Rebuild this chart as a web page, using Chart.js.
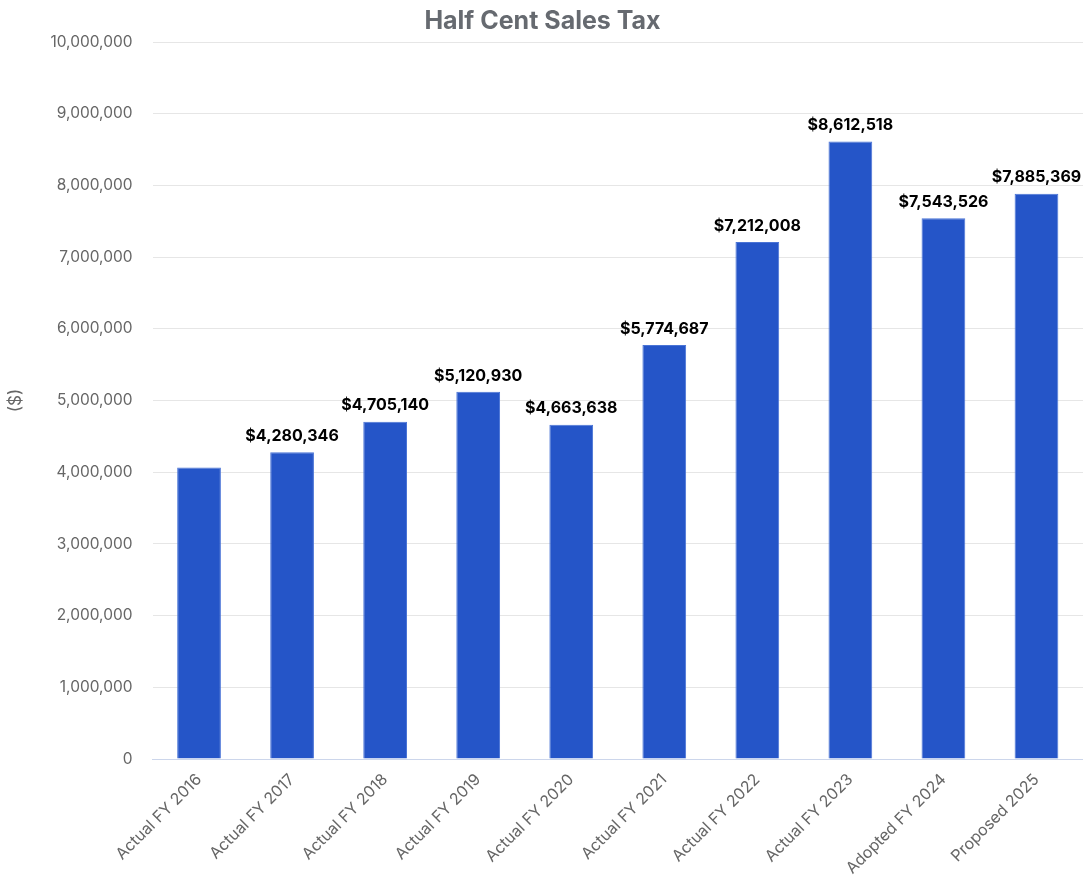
<!DOCTYPE html>
<html>
<head>
<meta charset="utf-8">
<script src="https://cdn.jsdelivr.net/npm/chart.js@4"></script>
<style>
  html, body { margin: 0; padding: 0; background: #fff; }
  #wrap { width: 1083px; height: 882px; }
</style>
</head>
<body>
<div id="wrap"><canvas id="taxChart"></canvas></div>
<script>
// Categories and values
const categories = ['Actual FY 2016', 'Actual FY 2017', 'Actual FY 2018', 'Actual FY 2019', 'Actual FY 2020',
  'Actual FY 2021', 'Actual FY 2022', 'Actual FY 2023', 'Adopted FY 2024', 'Proposed 2025'];
const taxValues = [4065000, 4280346, 4705140, 5120930, 4663638, 5774687, 7212008, 8612518, 7543526, 7885369];
// the first bar has no label in the original
const showLabel = [false, true, true, true, true, true, true, true, true, true];

const fontFamily = 'Inter, "Open Sans", sans-serif';

// Draw "$x,xxx,xxx" above each bar
const barLabels = {
  id: 'barLabels',
  afterDatasetsDraw(chart) {
    const ctx = chart.ctx;
    const meta = chart.getDatasetMeta(0);
    ctx.save();
    ctx.font = 'bold 16px ' + fontFamily;
    ctx.fillStyle = '#000';
    ctx.textAlign = 'center';
    ctx.textBaseline = 'bottom';
    meta.data.forEach((bar, i) => {
      if (!showLabel[i]) return;
      ctx.fillText('$' + taxValues[i].toLocaleString('en-US'), bar.x, bar.y - 8);
    });
    ctx.restore();
  }
};

new Chart(document.getElementById('taxChart'), {
  type: 'bar',
  data: {
    labels: categories,
    datasets: [{
      data: taxValues,
      backgroundColor: '#2555c8',
      borderColor: '#4a74d6',
      borderWidth: 1,
      barPercentage: 0.47,
      categoryPercentage: 1.0
    }]
  },
  options: {
    responsive: true,
    maintainAspectRatio: false,
    animation: false,
    layout: { padding: { left: 2, right: 0, top: 0, bottom: 1 } },
    plugins: {
      legend: { display: false },
      tooltip: { enabled: false },
      title: {
        display: true,
        text: 'Half Cent Sales Tax',
        color: '#666a70',
        font: { family: fontFamily, size: 25, weight: 'bold' },
        padding: { top: 6, bottom: 6 }
      }
    },
    scales: {
      x: {
        grid: { display: false },
        border: { color: '#ccd6eb' },
        ticks: {
          color: '#666',
          font: { family: fontFamily, size: 16 },
          maxRotation: 45,
          minRotation: 45
        }
      },
      y: {
        min: 0,
        max: 10000000,
        border: { display: false },
        grid: { color: '#e6e6e6', drawTicks: false },
        ticks: {
          stepSize: 1000000,
          color: '#666',
          padding: 20,
          font: { family: fontFamily, size: 15.5 },
          callback: (v) => v.toLocaleString('en-US')
        },
        title: {
          display: true,
          text: '($)',
          color: '#666',
          font: { family: fontFamily, size: 17 }
        }
      }
    }
  },
  plugins: [barLabels]
});
</script>
</body>
</html>
